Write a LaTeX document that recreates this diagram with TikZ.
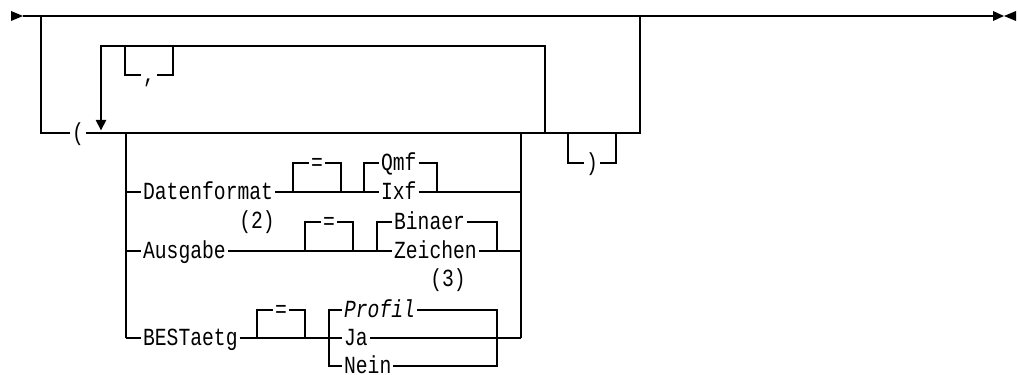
\documentclass[tikz,border=0pt]{standalone}
\usepackage{fontspec}
\newfontfamily\rrfont[FakeStretch=0.8]{Liberation Mono}
\usetikzlibrary{arrows.meta}
\tikzset{
  rail/.style={line width=0.6pt},
  lbl/.style={font=\rrfont\fontsize{14}{16}\selectfont, inner sep=1pt,
    text height=9pt, text depth=0pt},
  note/.style={font=\rrfont\fontsize{14}{16}\selectfont, inner sep=1pt}
}
\begin{document}
\begin{tikzpicture}[x=0.02cm,y=-0.02cm]
\useasboundingbox (0,0) rectangle (1018,375);

% main line
\coordinate (in) at (23,16);
\coordinate (out) at (993,16);
\coordinate (L) at (41,16);
\coordinate (R) at (640,16);
\fill (11,11) -- (in) -- (11,21) -- cycle;
\fill (out) ++(0,-5) -- (1004,16) -- (993,21) -- cycle;
\fill (1016,11) -- (1004,16) -- (1016,21) -- cycle;
\draw[rail] (in) -- (out);
\draw[line width=1.1pt] (646,16) -- (670,16);

% outer branch
\node[lbl] (lp) at (78,133) {(};
\draw[rail] (L) |- (lp.west);
\draw[rail] (lp.east) -- (R |- lp) -- (R);

% repeat loop with comma
\coordinate (loopL) at (101,133);
\coordinate (loopR) at (545,133);
\coordinate (loopT) at (101,46);
\draw[rail,-{Triangle[length=6pt,width=6pt]},shorten >=1.5pt] (loopR) |- (loopT) -- (loopL);
\node[lbl] (com) at (149,75) {,};
\draw[rail] (125,46) |- (com.west);
\draw[rail] (com.east) -| (173,46);

% closing parenthesis
\node[lbl] (rp) at (592,163) {)};
\draw[rail] (568,133) |- (rp.west);
\draw[rail] (rp.east) -| (616,133);

% choice block
\coordinate (chL) at (126,133);
\coordinate (chR) at (521,133);
\draw[rail] (chL) -- (126,338);
\draw[rail] (chR) -- (521,338);

% Datenformat
\node[lbl,anchor=west] (dat) at (141,192) {Datenformat};
\node[lbl] (eq1) at (317,163) {=};
\node[lbl,anchor=west] (qmf) at (379,163) {Qmf};
\node[lbl,anchor=west] (ixf) at (379,192) {Ixf};
\draw[rail] (126,192) -- (dat.west);
\draw[rail] (dat.east) -- (ixf.west);
\draw[rail] (ixf.east) -- (521,192);
\draw[rail] (293,192) |- (eq1.west);
\draw[rail] (eq1.east) -| (341,192);
\draw[rail] (364,192) |- (qmf.west);
\draw[rail] (qmf.east) -| (437,192);

% Ausgabe
\node[lbl,anchor=west] (aus) at (141,251) {Ausgabe};
\node[note] (n2) at (257,222) {(2)};
\node[lbl] (eq2) at (329,222) {=};
\node[lbl,anchor=west] (bin) at (392,222) {Binaer};
\node[lbl,anchor=west] (zei) at (392,251) {Zeichen};
\node[note] (n3) at (448,280) {(3)};
\draw[rail] (126,251) -- (aus.west);
\draw[rail] (aus.east) -- (zei.west);
\draw[rail] (zei.east) -- (521,251);
\draw[rail] (305,251) |- (eq2.west);
\draw[rail] (eq2.east) -| (353,251);
\draw[rail] (377,251) |- (bin.west);
\draw[rail] (bin.east) -| (497,251);

% BESTaetg
\node[lbl,anchor=west] (bes) at (141,338) {BESTaetg};
\node[lbl] (eq3) at (281,310) {=};
\node[lbl,anchor=west] (pro) at (342,310) {\itshape Profil};
\node[lbl,anchor=west] (ja) at (342,338) {Ja};
\node[lbl,anchor=west] (nei) at (342,366) {Nein};
\draw[rail] (126,338) -- (bes.west);
\draw[rail] (bes.east) -- (ja.west);
\draw[rail] (ja.east) -- (521,338);
\draw[rail] (257,338) |- (eq3.west);
\draw[rail] (eq3.east) -| (305,338);
\draw[rail] (pro.west) -| (329,366) -- (nei.west);
\draw[rail] (pro.east) -| (497,366) -- (nei.east);
\end{tikzpicture}
\end{document}
